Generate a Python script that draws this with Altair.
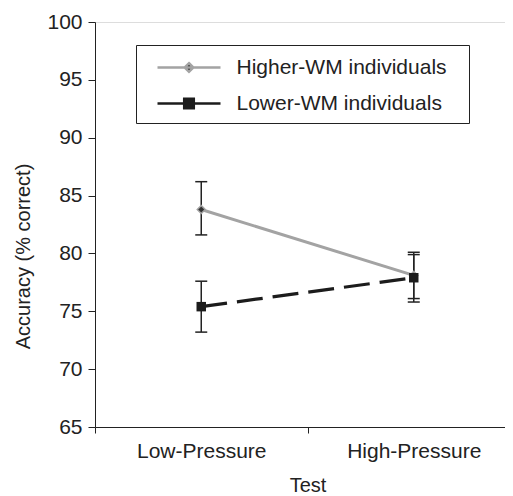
import altair as alt
import pandas as pd

tests = ["Low-Pressure", "High-Pressure"]
groups = ["Higher-WM individuals", "Lower-WM individuals"]
higher_mean = [83.8, 78.1]
higher_lo = [81.6, 76.1]
higher_hi = [86.2, 80.1]
lower_mean = [75.4, 77.9]
lower_lo = [73.2, 75.8]
lower_hi = [77.6, 79.9]

rows = []
for i, t in enumerate(tests):
    rows.append({"test": t, "group": groups[0], "mean": higher_mean[i], "lo": higher_lo[i], "hi": higher_hi[i]})
for i, t in enumerate(tests):
    rows.append({"test": t, "group": groups[1], "mean": lower_mean[i], "lo": lower_lo[i], "hi": lower_hi[i]})
df = pd.DataFrame(rows)

FONT = "Liberation Sans"
INK = "#222222"
GRAY = "#a3a3a3"
BLACK = "#1c1c1c"

xscale = alt.Scale(domain=tests, range=[0, 425], paddingInner=0, paddingOuter=0)
xaxis = alt.Axis(title="Test", tickBand="extent", labelAngle=0, tickSize=6, labelPadding=7,
                 titlePadding=14, labelFontSize=21, titleFontSize=20, titleFontWeight="normal",
                 labelFont=FONT, titleFont=FONT, domainColor=INK, tickColor=INK,
                 labelColor=INK, titleColor=INK, grid=False)
yscale = alt.Scale(domain=[65, 100], nice=False, zero=False)
yaxis = alt.Axis(title="Accuracy (% correct)", values=list(range(65, 101, 5)), grid=False,
                 tickSize=7, labelPadding=6, titlePadding=13, labelFontSize=21, titleFontSize=20,
                 titleFontWeight="normal", labelFont=FONT, titleFont=FONT, domainColor=INK,
                 tickColor=INK, labelColor=INK, titleColor=INK, titleY=234)

base = alt.Chart(df)
X = alt.X("test:N", scale=xscale, axis=xaxis, sort=tests)
Y = alt.Y("mean:Q", scale=yscale, axis=yaxis)

hi_df = base.transform_filter(alt.datum.group == groups[0])
lo_df = base.transform_filter(alt.datum.group == groups[1])

line_hi = hi_df.mark_line(strokeWidth=3, color=GRAY).encode(x=X, y=Y)
line_lo = lo_df.mark_line(strokeWidth=3.2, color=BLACK, strokeDash=[26, 10]).encode(x=X, y=Y)

rules = base.mark_rule(color=INK, strokeWidth=1.5).encode(x=X, y=alt.Y("lo:Q"), y2="hi:Q")
caps_lo = base.mark_tick(color=INK, thickness=1.5, size=12, opacity=1).encode(x=X, y=alt.Y("lo:Q"))
caps_hi = base.mark_tick(color=INK, thickness=1.5, size=12, opacity=1).encode(x=X, y=alt.Y("hi:Q"))

diamonds = hi_df.mark_point(
    shape="diamond", filled=True, color="#333333", stroke=GRAY, strokeWidth=1.5, size=64, opacity=1
).encode(x=X, y=Y)
squares = lo_df.mark_point(
    shape="square", filled=True, color=BLACK, size=90, opacity=1
).encode(x=X, y=Y)

path_hi = "M-2.625,0H2.625M0,-0.36L0.36,0L0,0.36L-0.36,0Z"
path_lo = "M-2.625,0H2.625M-0.4,-0.4H0.4V0.4H-0.4Z"

leg = alt.Legend(title="\u00a0", titleOrient="right", titlePadding=13, titleFontSize=21,
                 orient="none", legendX=41, legendY=23, padding=9,
                 strokeColor=INK, fillColor="white", labelFont=FONT, labelFontSize=21,
                 labelColor=INK, labelLimit=400, symbolSize=576, symbolStrokeWidth=2.5,
                 symbolOpacity=1, rowPadding=12, symbolOffset=30.5, labelOffset=34)

legend_layer = base.mark_point(opacity=0, strokeWidth=2.5).encode(
    x=X, y=Y,
    stroke=alt.Stroke("group:N", scale=alt.Scale(domain=groups, range=[GRAY, BLACK]), legend=leg),
    fill=alt.Fill("group:N", scale=alt.Scale(domain=groups, range=["#222222", BLACK]), legend=leg),
    shape=alt.Shape("group:N", scale=alt.Scale(domain=groups, range=[path_hi, path_lo]), legend=leg),
)

chart = alt.layer(line_hi, line_lo, rules, caps_lo, caps_hi, diamonds, squares, legend_layer).properties(
    width=410, height=405,
    autosize=alt.AutoSizeParams(type="none"),
    padding={"left": 87, "top": 14, "right": 0, "bottom": 70},
).configure_view(stroke=None).configure(background="white")

chart.save("out.html", embed_options={"renderer": "svg", "actions": False})
